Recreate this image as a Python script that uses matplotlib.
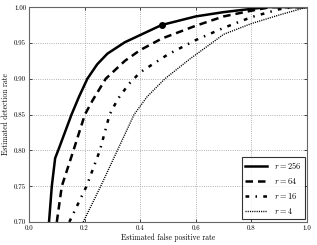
import numpy as np
import matplotlib
matplotlib.use("Agg")
import matplotlib.pyplot as plt

plt.rcParams['font.family'] = 'serif'
plt.rcParams['font.serif'] = ['cmr10', 'DejaVu Serif']
plt.rcParams['mathtext.fontset'] = 'cm'
plt.rcParams['axes.formatter.use_mathtext'] = True

# ROC curves (false positive rate, detection rate)
fpr_256 = [0.072, 0.082, 0.094, 0.105, 0.153, 0.18, 0.21, 0.245, 0.282, 0.345, 0.477, 0.60, 0.70, 0.81, 0.86, 1.0]
tpr_256 = [0.70, 0.75, 0.789, 0.80, 0.85, 0.875, 0.90, 0.92, 0.935, 0.951, 0.975, 0.987, 0.993, 0.998, 1.0, 1.0]

fpr_64 = [0.10, 0.118, 0.16, 0.201, 0.229, 0.276, 0.345, 0.40, 0.477, 0.60, 0.70, 0.80, 0.87, 1.0]
tpr_64 = [0.70, 0.75, 0.80, 0.85, 0.87, 0.90, 0.925, 0.940, 0.956, 0.974, 0.987, 0.995, 1.0, 1.0]

fpr_16 = [0.145, 0.207, 0.255, 0.29, 0.32, 0.36, 0.40, 0.50, 0.60, 0.70, 0.80, 0.90, 0.95, 1.0]
tpr_16 = [0.70, 0.75, 0.80, 0.85, 0.872, 0.893, 0.909, 0.934, 0.954, 0.971, 0.986, 0.997, 1.0, 1.0]

fpr_4 = [0.195, 0.258, 0.318, 0.378, 0.425, 0.489, 0.58, 0.658, 0.70, 0.80, 0.90, 1.0]
tpr_4 = [0.70, 0.75, 0.80, 0.85, 0.875, 0.90, 0.928, 0.95, 0.962, 0.977, 0.989, 1.0]

marker_pt = (0.477, 0.975)

fig = plt.figure(figsize=(3.17, 2.45), dpi=100)
ax = fig.add_axes([0.0915, 0.094, 0.877, 0.877])

ax.plot(fpr_256, tpr_256, color='k', lw=1.8, label='$r = 256$')
ax.plot(fpr_64, tpr_64, color='k', lw=1.8, dashes=(3, 2), label='$r = 64$')
ax.plot(fpr_16, tpr_16, color='k', lw=1.8, dashes=(1.5, 2.5, 0.6, 2.5), label='$r = 16$')
ax.plot(fpr_4, tpr_4, color='k', lw=1.0, dashes=(0.8, 0.8), label='$r = 4$')
ax.plot(*marker_pt, 'o', color='k', ms=4)

ax.set_xlim(0, 1)
ax.set_ylim(0.70, 1.00)
ax.set_xticks(np.arange(0, 1.01, 0.2))
ax.set_yticks(np.arange(0.70, 1.001, 0.05))
ax.xaxis.set_major_formatter(plt.FormatStrFormatter('%.1f'))
ax.yaxis.set_major_formatter(plt.FormatStrFormatter('%.2f'))
ax.tick_params(labelsize=5, direction='in', length=2, width=0.5, top=True, right=True, pad=2)
ax.grid(True, color='0.6', linestyle=':', linewidth=0.6)
for s in ax.spines.values():
    s.set_color('0.4')
    s.set_linewidth(0.8)

ax.set_xlabel('Estimated false positive rate', fontsize=5.5, labelpad=2)
ax.set_ylabel('Estimated detection rate', fontsize=5.5, labelpad=3)

leg = ax.legend(loc='lower right', fontsize=6, frameon=True, fancybox=False,
                borderaxespad=0.3, handlelength=2.6, labelspacing=0.6)
leg.get_frame().set_edgecolor('k')
leg.get_frame().set_linewidth(0.8)

fig.savefig('out.png', dpi=100)
